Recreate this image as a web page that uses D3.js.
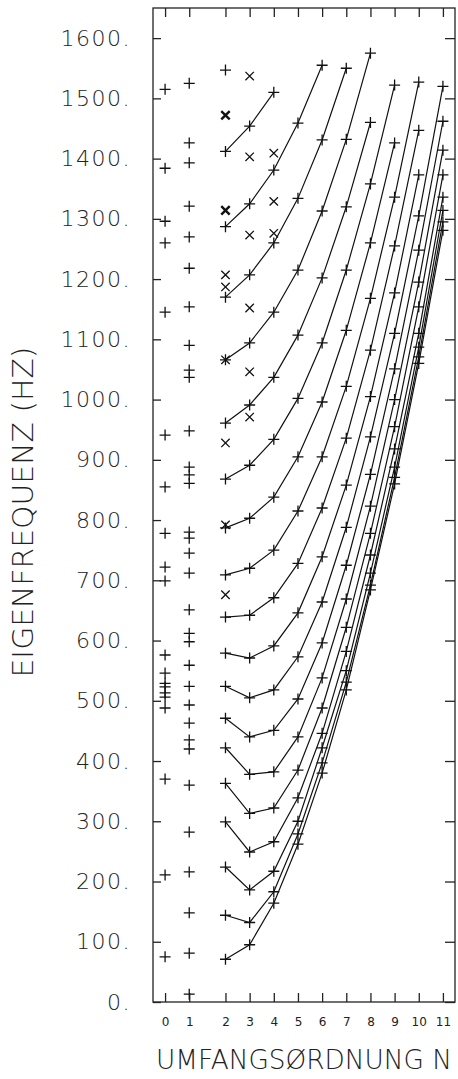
<!DOCTYPE html>
<html>
<head>
<meta charset="utf-8">
<script src="https://cdn.jsdelivr.net/npm/d3@7"></script>
<style>
  body { margin: 0; background: #fff; }
  text { font-family: "DejaVu Sans", sans-serif; fill: #222; }
</style>
</head>
<body>
<div id="chart"></div>
<script>
// circumferential orders and frequency ticks
const nTicks = [0, 1, 2, 3, 4, 5, 6, 7, 8, 9, 10, 11];
const yTicks = [0, 100, 200, 300, 400, 500, 600, 700, 800, 900, 1000, 1100, 1200, 1300, 1400, 1500, 1600];

// single points for N = 0 and N = 1 (not connected)
const freqN0 = [75, 211, 370, 488, 506, 513, 523, 529, 546, 576, 699, 722, 778, 855, 941, 1145, 1260, 1296, 1384, 1515];
const freqN1 = [13, 81, 148, 216, 282, 360, 420, 435, 463, 493, 524, 559, 598, 612, 651, 712, 745, 770, 780,
                861, 875, 888, 948, 1037, 1049, 1090, 1154, 1218, 1270, 1321, 1393, 1426, 1525];

// x-markers
const crossN2 = [676, 792, 928, 1066, 1187, 1207, 1314, 1472];
const crossN3 = [971, 1046, 1152, 1273, 1403, 1537];
const crossN4 = [1276, 1329, 1409];
const boldCross = [[2, 1314], [2, 1472]];

// connected curves, values for N = 2, 3, 4, ...
const firstN = 2;
const mode1  = [71, 95, 164, 262, 380, 518, 684, 860, 1060, 1281];
const mode2  = [144, 132, 183, 279, 397, 531, 692, 871, 1071, 1295];
const mode3  = [224, 186, 217, 300, 422, 550, 712, 888, 1087, 1314];
const mode4  = [299, 249, 266, 339, 446, 582, 742, 918, 1110, 1336];
const mode5  = [363, 313, 322, 385, 488, 622, 778, 955, 1154, 1373];
const mode6  = [422, 378, 382, 440, 538, 669, 823, 1000, 1195, 1414];
const mode7  = [471, 440, 451, 503, 596, 725, 876, 1051, 1248, 1462];
const mode8  = [524, 505, 518, 573, 664, 788, 938, 1110, 1305, 1520];
const mode9  = [579, 571, 591, 646, 739, 858, 1005, 1177, 1373];
const mode10 = [639, 642, 671, 728, 820, 936, 1082, 1255, 1447];
const mode11 = [709, 720, 750, 815, 905, 1022, 1168, 1336, 1527];
const mode12 = [787, 803, 838, 905, 996, 1115, 1260, 1426];
const mode13 = [868, 891, 934, 1002, 1094, 1215, 1358, 1522];
const mode14 = [961, 991, 1037, 1107, 1202, 1320, 1460];
const mode15 = [1066, 1094, 1145, 1215, 1313, 1432, 1575];
const mode16 = [1170, 1207, 1260, 1334, 1431, 1550];
const mode17 = [1287, 1325, 1381, 1459, 1555];
const mode18 = [1412, 1454, 1510];
const mode19 = [1547];
const modes = [mode1, mode2, mode3, mode4, mode5, mode6, mode7, mode8, mode9, mode10,
               mode11, mode12, mode13, mode14, mode15, mode16, mode17, mode18, mode19];

const width = 458, height = 1079;
const plotL = 153, plotR = 455, plotT = 8, plotB = 1002;

const svg = d3.select("#chart").append("svg")
  .attr("width", width)
  .attr("height", height);

// N=0 and N=1 sit one step apart, then a wider gap before N=2
const slot = n => n <= 1 ? n : n + 0.5;
const x = d3.scaleLinear().domain([-0.5, 12]).range([plotL, plotR]);
const y = d3.scaleLinear().domain([0, 1650]).range([plotB, plotT]);
const px = n => x(slot(n));

// frame
svg.append("rect")
  .attr("x", plotL).attr("y", plotT)
  .attr("width", plotR - plotL).attr("height", plotB - plotT)
  .attr("fill", "none").attr("stroke", "#222").attr("stroke-width", 1.3);

const yLeft = svg.append("g")
  .attr("transform", `translate(${plotL},0)`)
  .call(d3.axisLeft(y).tickValues(yTicks).tickSize(-8).tickPadding(22).tickFormat(d => d + "."));
yLeft.selectAll("text")
  .attr("font-size", 22).attr("font-weight", 200).attr("letter-spacing", 1.5);

svg.append("g")
  .attr("transform", `translate(${plotR},0)`)
  .call(d3.axisRight(y).tickValues(yTicks).tickSize(-10).tickFormat(""));

const xBottom = svg.append("g")
  .attr("transform", `translate(0,${plotB})`)
  .call(d3.axisBottom(x).tickValues(nTicks.map(slot)).tickSize(-9).tickPadding(15)
    .tickFormat((d, i) => nTicks[i]));
xBottom.selectAll("text").attr("font-size", 12);

svg.append("g")
  .attr("transform", `translate(0,${plotT})`)
  .call(d3.axisTop(x).tickValues(nTicks.map(slot)).tickSize(-9).tickFormat(""));

svg.selectAll(".domain").remove();
svg.selectAll(".tick line").attr("stroke", "#222").attr("stroke-width", 1.3);
svg.selectAll(".tick text").attr("fill", "#222");

// curves
const line = d3.line().x(d => px(d.n)).y(d => y(d.f));
const curves = modes.map(m => m.map((f, i) => ({ n: firstN + i, f })));

svg.append("g")
  .attr("fill", "none").attr("stroke", "#111").attr("stroke-width", 1.2)
  .selectAll("path")
  .data(curves.filter(c => c.length > 1))
  .join("path")
  .attr("d", line);

// plus markers
const plusPts = [
  ...freqN0.map(f => ({ n: 0, f })),
  ...freqN1.map(f => ({ n: 1, f })),
  ...curves.flat()
];
svg.append("g")
  .attr("stroke", "#111").attr("stroke-width", 1.3)
  .selectAll("path")
  .data(plusPts)
  .join("path")
  .attr("d", d => {
    const cx = px(d.n), cy = y(d.f), s = 5.5;
    return `M${cx - s},${cy}H${cx + s}M${cx},${cy - s}V${cy + s}`;
  });

// x markers
const crossPts = [
  ...crossN2.map(f => ({ n: 2, f })),
  ...crossN3.map(f => ({ n: 3, f })),
  ...crossN4.map(f => ({ n: 4, f }))
];
const isBold = d => boldCross.some(b => b[0] === d.n && b[1] === d.f);
svg.append("g")
  .attr("stroke", "#111")
  .selectAll("path")
  .data(crossPts)
  .join("path")
  .attr("stroke-width", d => isBold(d) ? 2.4 : 1.3)
  .attr("d", d => {
    const cx = px(d.n), cy = y(d.f), s = 4.2;
    return `M${cx - s},${cy - s}L${cx + s},${cy + s}M${cx - s},${cy + s}L${cx + s},${cy - s}`;
  });

// titles
svg.append("text")
  .attr("x", (plotL + plotR) / 2).attr("y", 1069)
  .attr("text-anchor", "middle")
  .attr("font-size", 27).attr("font-weight", 200)
  .attr("textLength", plotR - plotL - 6).attr("lengthAdjust", "spacingAndGlyphs")
  .text("UMFANGSØRDNUNG N");

svg.append("text")
  .attr("transform", "translate(33,512) rotate(-90)")
  .attr("text-anchor", "middle")
  .attr("font-size", 28).attr("font-weight", 200)
  .attr("textLength", 331).attr("lengthAdjust", "spacingAndGlyphs")
  .text("EIGENFREQUENZ (HZ)");
</script>
</body>
</html>
